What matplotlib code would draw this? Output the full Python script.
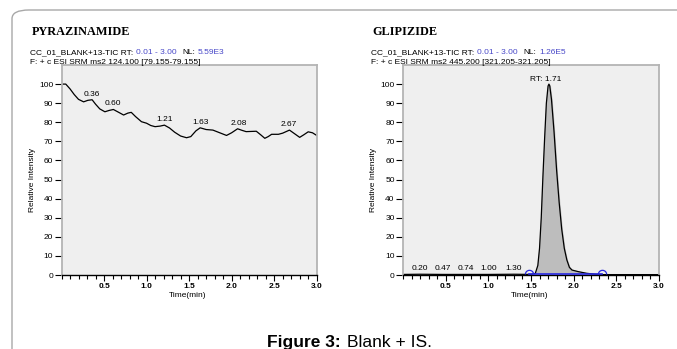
import matplotlib.pyplot as plt
from matplotlib.patches import FancyBboxPatch
from matplotlib.path import Path
from matplotlib.ticker import MultipleLocator

plt.rcParams['font.family'] = ['Liberation Sans', 'DejaVu Sans']

# PYRAZINAMIDE trace (time in min, relative intensity)
pyr_time = [0.00, 0.05, 0.10, 0.15, 0.20, 0.26, 0.31, 0.36, 0.40, 0.45, 0.51, 0.56,
            0.61, 0.66, 0.73, 0.78, 0.82, 0.87, 0.94, 1.00, 1.05, 1.10, 1.16, 1.21,
            1.27, 1.33, 1.40, 1.47, 1.52, 1.58, 1.63, 1.70, 1.78, 1.86, 1.94, 2.00,
            2.07, 2.12, 2.17, 2.29, 2.34, 2.39, 2.43, 2.47, 2.55, 2.60, 2.68, 2.74,
            2.80, 2.85, 2.90, 2.95, 3.00]
pyr_int = [100, 100, 97.5, 94.5, 92, 90.7, 91.5, 91.8, 89.5, 87, 85.5, 86.2,
           86.7, 85.5, 83.8, 84.8, 85.2, 83, 80.3, 79.5, 78.3, 77.7, 78, 78.5,
           77, 74.8, 72.8, 71.9, 72.5, 75.5, 77.1, 76.2, 75.9, 74.5, 73.1, 74.5,
           76.6, 75.8, 75.1, 75.3, 73.5, 71.6, 72.5, 73.7, 73.7, 74.3, 75.9, 74,
           72.1, 73.5, 75, 74.5, 73.1]
pyr_peaks = [0.36, 0.60, 1.21, 1.63, 2.08, 2.67]
pyr_peak_int = [91.8, 86.7, 78.5, 77.1, 76.6, 75.9]

# GLIPIZIDE trace
gli_time = [0.00, 0.20, 0.47, 0.74, 1.00, 1.30, 1.50, 1.55, 1.58, 1.60, 1.62, 1.64,
            1.66, 1.68, 1.70, 1.71, 1.72, 1.74, 1.77, 1.80, 1.83, 1.86, 1.89, 1.92,
            1.95, 1.98, 2.05, 2.15, 2.25, 2.35, 2.50, 3.00]
gli_int = [0.3, 0.4, 0.3, 0.3, 0.3, 0.4, 0.3, 0.8, 5, 14, 30, 52,
           72, 90, 99, 100, 99, 92, 75, 55, 38, 24, 14, 7.9,
           4, 2.6, 1.8, 0.9, 0.4, 0.2, 0.2, 0.2]
gli_peaks = [0.20, 0.47, 0.74, 1.00, 1.30]
gli_peak_int = [0.4, 0.3, 0.3, 0.3, 0.4]
gli_rt = 1.71
gli_base = [1.48, 2.33]

W, H = 677, 349
fig = plt.figure(figsize=(W / 100, H / 100), dpi=100)

# outer frame
frame = FancyBboxPatch((12 / W, -0.2), 1.2, 1 - 10 / H + 0.2,
                       boxstyle="round,pad=0,rounding_size=0.025",
                       transform=fig.transFigure, fc='none', ec='#a8a8a8', lw=1)
fig.add_artist(frame)

BLUE = '#4848c8'


def make_panel(rect, time, inten):
    ax = fig.add_axes(rect)
    ax.set_facecolor('#efefef')
    ax.plot(time, inten, color='black', lw=0.9)
    ax.set_xlim(0, 3.0)
    ax.set_ylim(0, 110)
    ax.xaxis.set_minor_locator(MultipleLocator(0.1))
    ax.set_xticks([0.5, 1.0, 1.5, 2.0, 2.5, 3.0])
    ax.set_yticks(range(0, 101, 10))
    for s in ['left', 'top', 'right']:
        ax.spines[s].set_color('#b4b4b4')
        ax.spines[s].set_linewidth(1.3)
    ax.spines['bottom'].set_linewidth(1)
    ax.tick_params(axis='y', length=5, width=0.8, labelsize=6, pad=1)
    ax.tick_params(axis='x', which='major', length=4, width=0.8, labelsize=6, pad=2)
    ax.tick_params(axis='x', which='minor', length=3, width=0.8)
    for lab in ax.get_xticklabels():
        lab.set_fontweight('bold')
    ax.set_ylabel('Relative Intensity', fontsize=6)
    ax.yaxis.set_label_coords(-0.1, 0.452)
    ax.set_xlabel('Time(min)', fontsize=6)
    ax.xaxis.set_label_coords(0.496, -0.08)
    return ax


def head_text(x, y, title, nl, line2):
    fig.text(x + 1.5 / W, y, title, family='Liberation Serif', weight='bold',
             fontsize=8.8, va='baseline')
    parts = [('CC_01_BLANK+13-TIC RT:', 'black'), ('0.01 - 3.00', BLUE),
             ('NL:', 'black'), (nl, BLUE)]
    t = fig.text(x, y - 19 / H, parts[0][0], color=parts[0][1], fontsize=6,
                 va='baseline')
    gaps = [2, 4, 2]
    for (s, c), g in zip(parts[1:], gaps):
        t = fig.axes[0].annotate(s, xy=(1, 0), xycoords=t, xytext=(g, 0),
                                 textcoords='offset points', color=c,
                                 fontsize=6, va='bottom', ha='left',
                                 annotation_clip=False)
    fig.text(x, y - 28.5 / H, line2, fontsize=6, va='baseline')


ax1 = make_panel([61.5 / W, 1 - 275 / H, 255.2 / W, 210 / H], pyr_time, pyr_int)
ax2 = make_panel([403 / W, 1 - 275 / H, 256 / W, 210 / H], gli_time, gli_int)

for t, v in zip(pyr_peaks, pyr_peak_int):
    ax1.annotate(f'{t:.2f}', xy=(t, v), xytext=(0, 1.5), textcoords='offset points',
                 ha='center', va='bottom', fontsize=6)

ax2.fill_between(gli_time, gli_int, 0,
                 where=[gli_base[0] <= t <= gli_base[1] for t in gli_time],
                 color='#bdbdbd', zorder=1)
ax2.plot(gli_base, [0.4, 0.4], color='#2828e0', lw=1.2, zorder=3, clip_on=False)
arc = Path.arc(0, 180)
ax2.plot(gli_base, [0.4, 0.4], ls='none', marker=arc, ms=6, mfc='none',
         mec='#2828e0', mew=0.9, zorder=3, clip_on=False)
for t, v in zip(gli_peaks, gli_peak_int):
    ax2.annotate(f'{t:.2f}', xy=(t, v), xytext=(0, 1.5), textcoords='offset points',
                 ha='center', va='bottom', fontsize=6)
ax2.annotate(f'RT: {gli_rt:.2f}', xy=(gli_rt, 100), xytext=(-2, 0.5),
             textcoords='offset points', ha='center', va='bottom', fontsize=6)

head_text(30 / W, 1 - 35 / H, 'PYRAZINAMIDE', '5.59E3',
          'F: + c ESI SRM ms2 124.100 [79.155-79.155]')
head_text(371 / W, 1 - 35 / H, 'GLIPIZIDE', '1.26E5',
          'F: + c ESI SRM ms2 445.200 [321.205-321.205]')

cap = fig.text(341 / W, 1 - 347 / H, 'Figure 3:', fontsize=12.5, weight='bold',
               ha='right', va='baseline')
fig.axes[0].annotate('Blank + IS.', xy=(1, 0), xycoords=cap, xytext=(4, 0),
                     textcoords='offset points', fontsize=12.5, va='bottom',
                     ha='left', annotation_clip=False)

fig.savefig('out.png', dpi=100)
